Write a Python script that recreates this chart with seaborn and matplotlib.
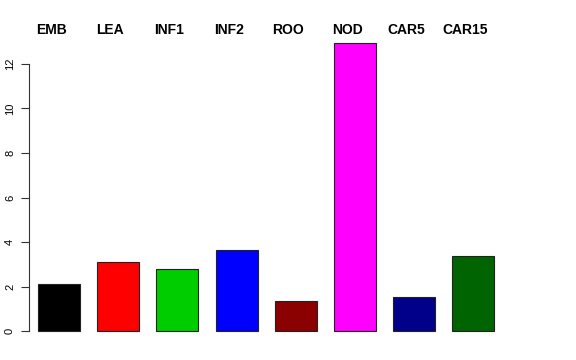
import matplotlib
matplotlib.use("Agg")
import matplotlib.pyplot as plt
import matplotlib.transforms as mtransforms
import seaborn as sns
import pandas as pd

categories = ["EMB", "LEA", "INF1", "INF2", "ROO", "NOD", "CAR5", "CAR15"]
values = [2.11, 3.11, 2.80, 3.67, 1.38, 12.94, 1.56, 3.38]
colors = ["#000000", "#FF0000", "#00CD00", "#0000FF", "#8B0000", "#FF00FF", "#00008B", "#006400"]
yticks = [0, 2, 4, 6, 8, 10, 12]

sns.set_style("white")
plt.rcParams["font.family"] = ["Liberation Sans", "DejaVu Sans"]
plt.rcParams["text.color"] = "black"
plt.rcParams["ytick.color"] = "black"

df = pd.DataFrame({"cat": categories, "val": values})

fig = plt.figure(figsize=(5.76, 3.6), dpi=100)
ax = fig.add_axes([29 / 576, 17 / 360, (503.4 - 29) / 576, (343 - 30) / 360])

sns.barplot(data=df, x="cat", y="val", hue="cat", palette=colors, order=categories,
            hue_order=categories, width=0.71, edgecolor="#222222", linewidth=0.8,
            legend=False, ax=ax, saturation=1)

ax.set_xlim(-0.507, 7.507)
ax.set_ylim(-0.52, 13.52)
ax.set_xlabel("")
ax.set_ylabel("")
ax.set_xticks([])
ax.set_yticks(yticks)
ax.set_yticklabels([str(t) for t in yticks], rotation=90, va="center", fontsize=8, color="black")
ax.tick_params(axis="y", left=True, length=6, width=0.8, color="#333333", pad=4)
for s in ["top", "right", "bottom"]:
    ax.spines[s].set_visible(False)
ax.spines["left"].set_bounds(0, 12)
ax.spines["left"].set_color("#333333")
ax.spines["left"].set_linewidth(0.8)

trans = mtransforms.blended_transform_factory(ax.transData, ax.transAxes)
for i, name in enumerate(categories):
    ax.text(i - 0.135, 1.0, name, transform=trans, ha="center", va="center",
            fontsize=10, fontweight="bold", color="black", clip_on=False)

fig.savefig("out.png", dpi=100)
